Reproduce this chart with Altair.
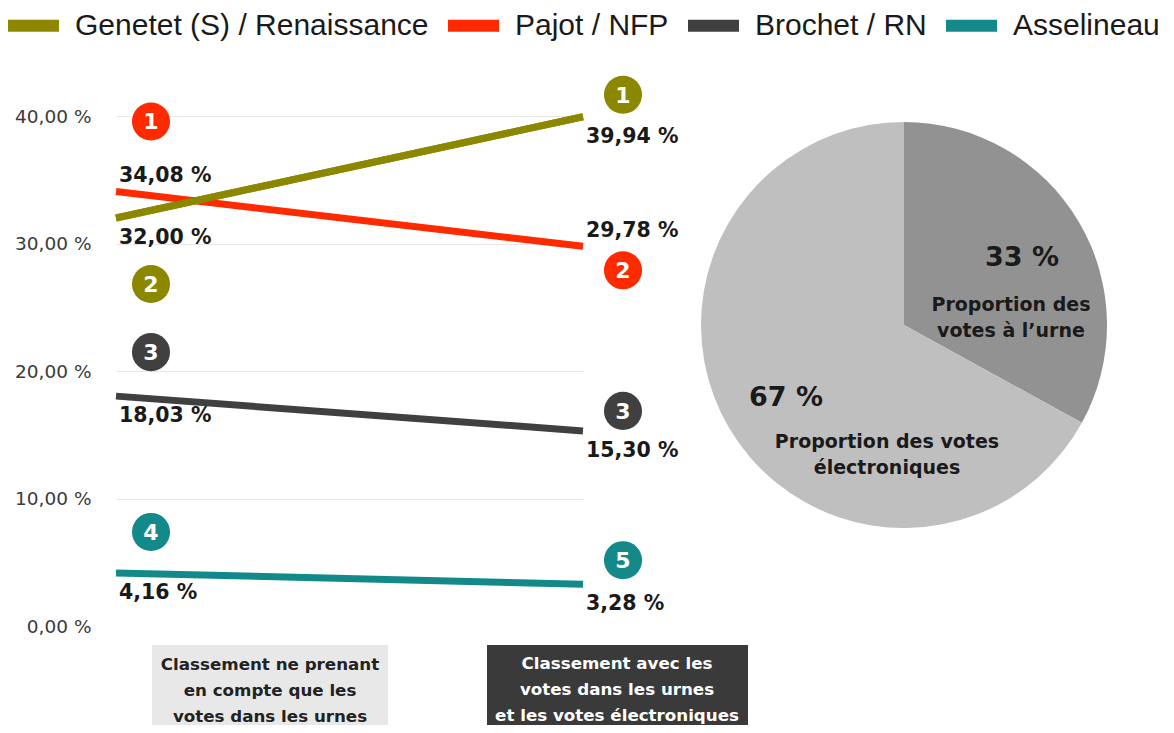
import altair as alt
import pandas as pd

# ---------------- data ----------------
CANDIDATES = ["Genetet (S) / Renaissance", "Pajot / NFP", "Brochet / RN", "Asselineau"]
COLORS = ["#8b8800", "#ff2a00", "#404040", "#13898a"]
SHARE_URNE = [32.00, 34.08, 18.03, 4.16]      # classement votes dans les urnes
SHARE_TOTAL = [39.94, 29.78, 15.30, 3.28]     # classement urnes + électronique
RANK_URNE = [2, 1, 3, 4]
RANK_TOTAL = [1, 2, 3, 5]
Y_TICKS = [0, 10, 20, 30, 40]

PIE_PARTS = ["urne", "electronique"]
PIE_SHARES = [33, 67]
PIE_CAPTIONS = [["Proportion des", "votes à l’urne"],
                ["Proportion des votes", "électroniques"]]
STAGE_CAPTIONS = [["Classement ne prenant", "en compte que les", "votes dans les urnes"],
                  ["Classement avec les", "votes dans les urnes", "et les votes électroniques"]]

# ---------------- layout ----------------
W, H = 467, 510
PX_PER_UNIT = H / 40
BADGE_DY = {0: [66, -70, -44, -41], 1: [-22, 24, -20, -24]}   # px, badge offset from line end
BADGE_DX = {0: 35, 1: 40}
ABOVE = ["Pajot / NFP"]
FONT = "DejaVu Sans"

rows = []
for stage, vals, ranks in ((0, SHARE_URNE, RANK_URNE), (1, SHARE_TOTAL, RANK_TOTAL)):
    for i, c in enumerate(CANDIDATES):
        rows.append(dict(candidate=c, stage=stage, value=vals[i], rank=ranks[i],
                         badge_x=stage + BADGE_DX[stage] / W,
                         badge_y=vals[i] - BADGE_DY[stage][i] / PX_PER_UNIT,
                         above=c in ABOVE))
df = pd.DataFrame(rows)

pie_df = pd.DataFrame({"part": PIE_PARTS, "share": PIE_SHARES, "idx": [0, 1]})

xscale = alt.Scale(domain=[0, 1], nice=False, zero=False)
yscale = alt.Scale(domain=[0, 40], nice=False)

yaxis = alt.Axis(values=Y_TICKS, title=None, domain=False, ticks=False, labelPadding=25,
                 labelExpr="replace(format(datum.value, '.2f'), '.', ',') + ' %'",
                 labelFont=FONT, labelFontSize=18.5, labelColor="#3a3a3a",
                 gridColor={"condition": {"test": "datum.value === 0", "value": "transparent"},
                            "value": "#e6e6e6"},
                 gridWidth=1)

color = alt.Color("candidate:N", scale=alt.Scale(domain=CANDIDATES, range=COLORS),
                  legend=alt.Legend(title=None, orient="none", legendX=-114, legendY=-122,
                                    direction="horizontal", symbolType="stroke",
                                    symbolSize=2601, symbolStrokeWidth=12,
                                    labelFont="Liberation Sans", labelFontSize=30,
                                    labelColor="#1a1a1a", labelOffset=10, columnPadding=-5,
                                    labelLimit=0))

base = alt.Chart(df)

lines = base.mark_line(strokeWidth=7, strokeCap="butt").encode(
    x=alt.X("stage:Q", scale=xscale, axis=None),
    y=alt.Y("value:Q", scale=yscale, axis=yaxis),
    color=color,
    detail="candidate:N",
)
top_line = base.transform_filter(alt.datum.candidate == CANDIDATES[0]).mark_line(
    strokeWidth=7, strokeCap="butt", color=COLORS[0]).encode(
    x=alt.X("stage:Q", scale=xscale, axis=None),
    y=alt.Y("value:Q", scale=yscale),
)

label_expr = "replace(format(datum.value, '.2f'), '.', ',') + ' %'"
lab_common = dict(align="left", dx=3, font=FONT, fontWeight="bold", fontSize=20.5,
                  color="#1a1a1a", baseline="middle")
labels_below = base.transform_filter("!datum.above").transform_calculate(
    lab=label_expr).mark_text(dy=20, **lab_common).encode(
    x=alt.X("stage:Q", scale=xscale), y=alt.Y("value:Q", scale=yscale), text="lab:N")
labels_above = base.transform_filter("datum.above").transform_calculate(
    lab=label_expr).mark_text(dy=-15, **lab_common).encode(
    x=alt.X("stage:Q", scale=xscale), y=alt.Y("value:Q", scale=yscale), text="lab:N")

badges = base.mark_circle(size=1452, opacity=1).encode(
    x=alt.X("badge_x:Q", scale=xscale),
    y=alt.Y("badge_y:Q", scale=yscale),
    fill=alt.Fill("candidate:N", scale=alt.Scale(domain=CANDIDATES, range=COLORS), legend=None),
)
badge_txt = base.mark_text(font=FONT, fontWeight="bold", fontSize=22, color="white",
                           baseline="middle", dy=1).encode(
    x=alt.X("badge_x:Q", scale=xscale),
    y=alt.Y("badge_y:Q", scale=yscale),
    text="rank:Q",
)

# ---------------- pie ----------------
PIE_CX, PIE_CY = 788, 209
pie = alt.Chart(pie_df).mark_arc(radius=203).encode(
    theta=alt.Theta("share:Q", stack=True),
    order=alt.Order("idx:Q"),
    color=alt.condition("datum.idx == 0", alt.value("#929292"), alt.value("#bfbfbf")),
    x=alt.value(PIE_CX), y=alt.value(PIE_CY),
)
pie_pct = alt.Chart(pie_df).transform_calculate(pct="datum.share + ' %'").mark_text(
    radius=137, font=FONT, fontWeight="bold", fontSize=27, color="#1a1a1a", dy=3).encode(
    theta=alt.Theta("share:Q", stack=True),
    order=alt.Order("idx:Q"),
    text="pct:N",
    x=alt.value(PIE_CX), y=alt.value(PIE_CY),
)
cap_common = dict(font=FONT, fontWeight="bold", fontSize=19, color="#1a1a1a",
                  lineHeight=26, align="center", baseline="middle")
pie_cap1 = alt.Chart(pie_df.iloc[[0]]).mark_text(text=PIE_CAPTIONS[0], **cap_common).encode(
    x=alt.value(895), y=alt.value(189))
pie_cap2 = alt.Chart(pie_df.iloc[[1]]).mark_text(text=PIE_CAPTIONS[1], **cap_common).encode(
    x=alt.value(771), y=alt.value(326))

# ---------------- stage caption boxes ----------------
box_df = pd.DataFrame({"stage": [0, 1]})
box1 = alt.Chart(box_df.iloc[[0]]).mark_rect(color="#e8e8e8").encode(
    x=alt.value(36), x2=alt.value(272), y=alt.value(529), y2=alt.value(640))
box2 = alt.Chart(box_df.iloc[[1]]).mark_rect(color="#3a3a3a").encode(
    x=alt.value(371), x2=alt.value(632), y=alt.value(529), y2=alt.value(640))
box_txt_common = dict(font=FONT, fontWeight="bold", fontSize=16.7, lineHeight=26,
                      align="center", baseline="middle")
box1_txt = alt.Chart(box_df.iloc[[0]]).mark_text(text=STAGE_CAPTIONS[0], color="#222222",
                                                  **box_txt_common).encode(
    x=alt.value(154), y=alt.value(549))
box2_txt = alt.Chart(box_df.iloc[[1]]).mark_text(text=STAGE_CAPTIONS[1], color="white",
                                                  **box_txt_common).encode(
    x=alt.value(501), y=alt.value(548))

chart = alt.layer(
    pie, pie_pct, pie_cap1, pie_cap2,
    box1, box2, box1_txt, box2_txt,
    lines, top_line, labels_below, labels_above, badges, badge_txt,
).properties(
    width=W, height=H,
    autosize=alt.AutoSizeParams(type="none"),
    padding={"left": 108, "top": 108, "right": 583, "bottom": 99},
).configure_view(stroke=None)

chart.save("out.html", embed_options={"renderer": "svg", "actions": False})
